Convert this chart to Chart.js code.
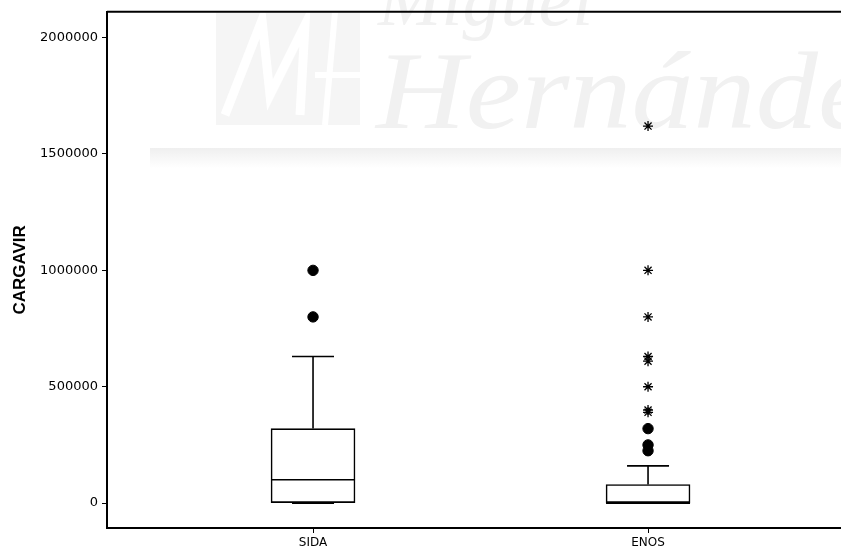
<!DOCTYPE html>
<html lang="es">
<head>
    <meta charset="UTF-8">
    <title>CARGAVIR</title>
    <script src="https://cdn.jsdelivr.net/npm/chart.js"></script>
    <style>
        body { margin: 0; background: #fff; }
        .chart-container { width: 841px; height: 553px; position: relative; }
    </style>
</head>
<body>
    <div class="chart-container">
        <canvas id="boxChart"></canvas>
    </div>
    <script>
        // data
        const categories = ['SIDA', 'ENOS'];
        const q1 = [0, 0];
        const medians = [100000, 0];
        const q3 = [320000, 80000];
        const whiskerLow = [0, 0];
        const whiskerHigh = [630000, 160000];
        const circleOutliers = [[800000, 1000000], [225000, 250000, 320000]];
        const starOutliers = [[], [390000, 400000, 500000, 610000, 630000, 800000, 1000000, 1620000]];
        const yTicks = [0, 500000, 1000000, 1500000, 2000000];

        const boxData = categories.map((c, i) => ({ x: i + 1, y: [q1[i], q3[i]] }));
        const circleData = [];
        const starData = [];
        categories.forEach((c, i) => {
            circleOutliers[i].forEach(v => circleData.push({ x: i + 1, y: v }));
            starOutliers[i].forEach(v => starData.push({ x: i + 1, y: v }));
        });

        // faint university watermark behind the plot
        const watermark = {
            id: 'watermark',
            beforeDatasetsDraw(chart) {
                const ctx = chart.ctx;
                ctx.save();
                const grad = ctx.createLinearGradient(0, 148, 0, 168);
                grad.addColorStop(0, '#efefef');
                grad.addColorStop(1, '#ffffff');
                ctx.fillStyle = grad;
                ctx.fillRect(150, 148, 691, 20);
                ctx.fillStyle = '#f5f5f5';
                ctx.fillRect(216, 12, 144, 113);
                ctx.strokeStyle = '#ffffff';
                ctx.lineWidth = 9;
                ctx.beginPath();
                ctx.moveTo(225, 115); ctx.lineTo(262, 20); ctx.lineTo(270, 95);
                ctx.lineTo(305, 25); ctx.lineTo(300, 115);
                ctx.stroke();
                ctx.lineWidth = 6;
                ctx.beginPath();
                ctx.moveTo(315, 75); ctx.lineTo(360, 75);
                ctx.moveTo(335, 12); ctx.lineTo(325, 125);
                ctx.stroke();
                ctx.fillStyle = '#f1f1f1';
                ctx.translate(376, 0);
                ctx.scale(1.13, 1);
                ctx.font = 'italic 110px "Liberation Serif"';
                ctx.fillText('Hernández', 0, 128);
                ctx.scale(1 / 1.13, 1);
                ctx.font = 'italic 76px "Liberation Serif"';
                ctx.fillText('Miguel', 2, 25);
                ctx.restore();
            }
        };

        // whiskers, caps, medians and the top frame line
        const boxLines = {
            id: 'boxLines',
            afterDatasetsDraw(chart) {
                const ctx = chart.ctx;
                const y = chart.scales.y;
                const meta = chart.getDatasetMeta(0);
                ctx.save();
                ctx.strokeStyle = '#000';
                ctx.lineWidth = 1.6;
                categories.forEach((c, i) => {
                    const el = meta.data[i];
                    const half = el.width / 2;
                    const cap = el.width / 4;
                    const yQ1 = y.getPixelForValue(q1[i]);
                    const yQ3 = y.getPixelForValue(q3[i]);
                    const yHi = y.getPixelForValue(whiskerHigh[i]);
                    const yLo = y.getPixelForValue(whiskerLow[i]);
                    const yMed = y.getPixelForValue(medians[i]);
                    ctx.beginPath();
                    ctx.moveTo(el.x, yQ3); ctx.lineTo(el.x, yHi);
                    ctx.moveTo(el.x - cap, yHi); ctx.lineTo(el.x + cap, yHi);
                    ctx.moveTo(el.x, yQ1); ctx.lineTo(el.x, yLo);
                    ctx.moveTo(el.x - cap, yLo); ctx.lineTo(el.x + cap, yLo);
                    ctx.moveTo(el.x - half, yMed); ctx.lineTo(el.x + half, yMed);
                    ctx.stroke();
                });
                const area = chart.chartArea;
                ctx.lineWidth = 2;
                ctx.beginPath();
                ctx.moveTo(area.left, area.top);
                ctx.lineTo(chart.width, area.top);
                ctx.stroke();
                ctx.restore();
            }
        };

        new Chart(document.getElementById('boxChart'), {
            type: 'scatter',
            data: {
                datasets: [{
                    type: 'bar',
                    data: boxData,
                    backgroundColor: '#ffffff',
                    borderColor: '#000',
                    borderWidth: 1.6,
                    borderSkipped: false,
                    barThickness: 84,
                    order: 3
                }, {
                    data: circleData,
                    pointStyle: 'circle',
                    pointRadius: 5.2,
                    backgroundColor: '#000',
                    borderColor: '#000',
                    order: 1
                }, {
                    data: starData,
                    pointStyle: 'star',
                    pointRadius: 5,
                    borderWidth: 1.3,
                    borderColor: '#000',
                    order: 1
                }]
            },
            options: {
                responsive: true,
                maintainAspectRatio: false,
                animation: false,
                layout: { autoPadding: false, padding: { top: 10, right: 0, left: 0, bottom: 0 } },
                plugins: {
                    legend: { display: false },
                    tooltip: { enabled: false }
                },
                scales: {
                    x: {
                        type: 'linear',
                        offset: false,
                        min: 0.385,
                        max: 2.576,
                        afterBuildTicks: s => { s.ticks = categories.map((c, i) => ({ value: i + 1 })); },
                        afterFit: s => { s.height = 25; s.paddingRight = 0; s.paddingLeft = 0; },
                        ticks: {
                            callback: v => categories[v - 1],
                            color: '#000',
                            padding: 3,
                            maxRotation: 0,
                            font: { family: 'DejaVu Sans', size: 12 }
                        },
                        grid: { drawOnChartArea: false, offset: false, tickLength: 5, color: '#000' },
                        border: { color: '#000', width: 2 }
                    },
                    y: {
                        min: -107000,
                        max: 2111000,
                        afterBuildTicks: s => { s.ticks = yTicks.map(v => ({ value: v })); },
                        afterFit: s => { s.width = 107; },
                        ticks: {
                            callback: v => String(v),
                            color: '#000',
                            padding: 4,
                            font: { family: 'DejaVu Sans', size: 13 }
                        },
                        grid: { drawOnChartArea: false, tickLength: 5, color: '#000' },
                        border: { color: '#000', width: 2 },
                        title: {
                            display: true,
                            text: 'CARGAVIR',
                            color: '#000',
                            padding: { top: 10, bottom: 0 },
                            font: { family: 'Liberation Sans', size: 17, weight: 'bold' }
                        }
                    }
                }
            },
            plugins: [watermark, boxLines]
        });
    </script>
</body>
</html>
